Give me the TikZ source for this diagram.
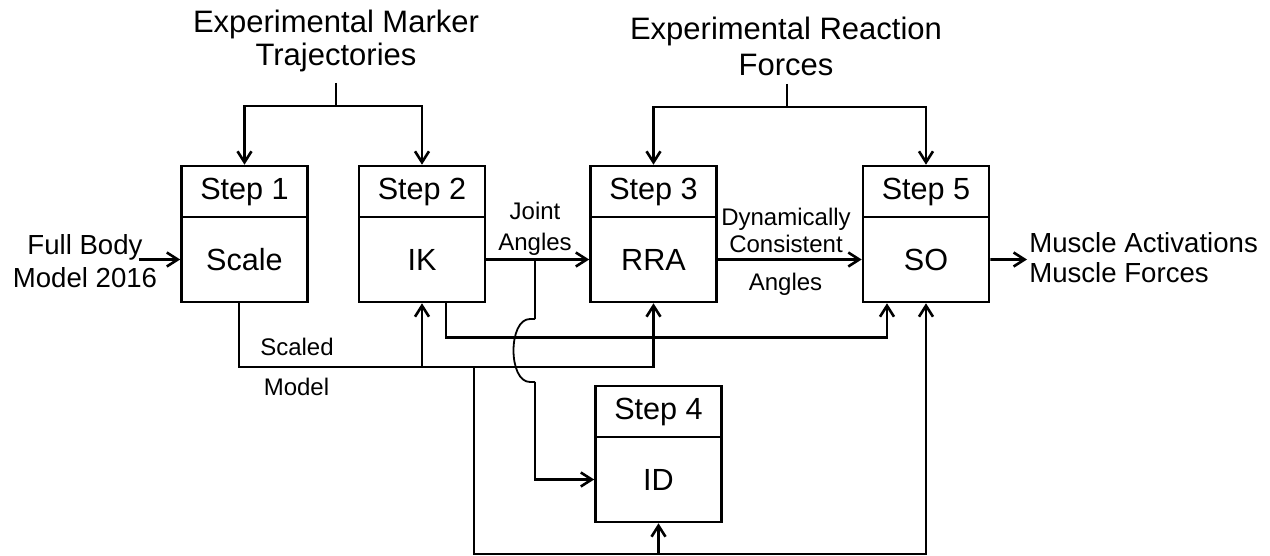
\documentclass[tikz,border=0pt]{standalone}
\usepackage{fontspec}
\setmainfont{Liberation Sans}
\usetikzlibrary{arrows.meta,positioning}

\tikzset{
  >={Straight Barb[length=5.5pt,width=7pt]},
  stephead/.style={draw, minimum width=63pt, minimum height=25.5pt,
    inner sep=0pt, font=\fontsize{15.3}{16}\selectfont},
  stepbody/.style={stephead, minimum height=42.5pt},
  toptext/.style={inner sep=0pt, align=center, font=\fontsize{15.5}{16.5}\selectfont},
  sidetext/.style={inner sep=0pt, font=\fontsize{13.8}{16.5}\selectfont},
  flowlabel/.style={inner sep=0pt, align=center, font=\fontsize{12}{15.5}\selectfont},
}

\begin{document}
\begin{tikzpicture}[x=0.5pt, y=-0.5pt, line width=1.3pt]
  \useasboundingbox (0,0) rectangle (1270,556);

  % Step boxes: header with the step number, body with the tool
  \node[stephead] (s1h) at (244.5,191.5) {Step 1};
  \node[stepbody, below=-1.3pt of s1h] (scale) {Scale};
  \node[stephead] (s2h) at (422,191.5) {Step 2};
  \node[stepbody, below=-1.3pt of s2h] (ik) {IK};
  \node[stephead] (s3h) at (653.5,191.5) {Step 3};
  \node[stepbody, below=-1.3pt of s3h] (rra) {RRA};
  \node[stephead] (s5h) at (926,191.5) {Step 5};
  \node[stepbody, below=-1.3pt of s5h] (so) {SO};
  \node[stephead] (s4h) at (658.5,411.5) {Step 4};
  \node[stepbody, below=-1.3pt of s4h] (id) {ID};

  % Inputs on top
  \node[toptext] (markers) at (336,40.5) {Experimental Marker\\Trajectories};
  \node[toptext] (forces) at (786,46) {Experimental Reaction\\[1.5pt]Forces};
  \coordinate (mtop) at (336,83);
  \coordinate (msplit) at (336,106);
  \coordinate (rtop) at (787,84);
  \coordinate (rsplit) at (787,107);
  \draw (mtop) -- (msplit);
  \draw[->] (msplit) -| (s1h.north);
  \draw[->] (msplit) -| (s2h.north);
  \draw (rtop) -- (rsplit);
  \draw[->] (rsplit) -| (s3h.north);
  \draw[->] (rsplit) -| (s5h.north);

  % Model in, results out
  \node[sidetext, align=center] (fullbody) at (85,261.5) {Full Body\\Model 2016};
  \coordinate (modelin) at (139,259.5);
  \draw[->] (modelin) -- (scale.west);
  \node[sidetext, align=left, anchor=west, font=\fontsize{13.8}{15}\selectfont]
    (results) at (1028,258) {Muscle Activations\\Muscle Forces};
  \coordinate (musout) at (1027,259.5);
  \draw[->] (so.east) -- (musout);

  % Angles along the chain
  \draw[->] (ik.east) -- (rra.west);
  \draw[->] (rra.east) -- (so.west);
  \node[flowlabel] (jointlbl) at (535,229) {Joint\\Angles};
  \node[flowlabel, font=\fontsize{12}{13.5}\selectfont] (dynlbl) at (786,230)
    {Dynamically\\Consistent};
  \node[flowlabel] (anglbl) at (785.5,284) {Angles};

  % Joint angles down to ID, hopping over the two buses
  \coordinate (jbranch) at (535,259.5);
  \draw (jbranch) -- (535,319);
  \draw[line width=0.9pt] (535,319) -- (530,319)
    .. controls (508,319) and (508,382) .. (530,382) -- (535,382);
  \draw[->] (535,382) -- (jbranch |- id.west) -- (id.west);

  % IK result to SO
  \draw[->] ([xshift=12pt]ik.south) -- ++(0,34) -| ([xshift=-19.5pt]so.south);

  % Scaled model bus
  \coordinate (sm) at (474,367);
  \coordinate (idbus) at (474,554);
  \draw ([xshift=-2.75pt]scale.south) |- (sm);
  \draw[->] (sm) -| (rra.south);
  \draw[->] (ik.south |- sm) -- (ik.south);
  \draw[->] (sm) -- (idbus) -| (so.south);
  \draw[->] (id.south |- idbus) -- (id.south);
  \node[flowlabel] (scaledlbl) at (297,346.5) {Scaled};
  \node[flowlabel] (modellbl) at (296.5,386.5) {Model};
\end{tikzpicture}
\end{document}
